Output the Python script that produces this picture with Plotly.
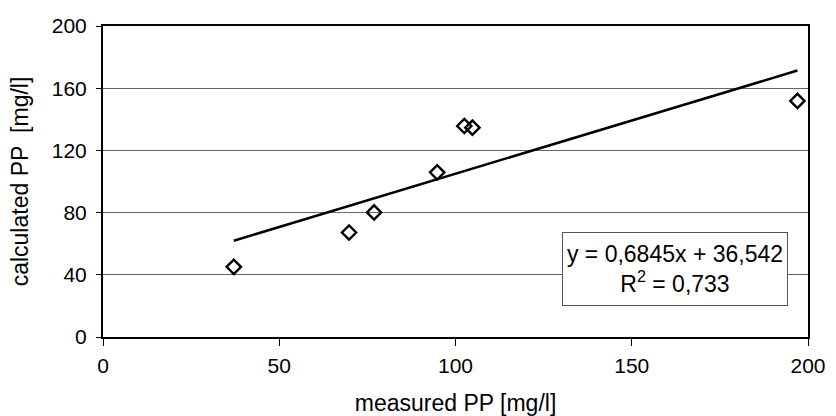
import plotly.graph_objects as go

# Data
measured_pp = [37.1, 69.8, 76.9, 94.8, 102.5, 104.8, 197.0]
calculated_pp = [45.1, 67.2, 80.1, 105.9, 135.7, 134.6, 151.8]
slope = 0.6845
intercept = 36.542
r_squared = 0.733
x_ticks = [0, 50, 100, 150, 200]
y_ticks = [0, 40, 80, 120, 160, 200]

fit_x = [min(measured_pp), max(measured_pp)]
fit_y = [slope * v + intercept for v in fit_x]

FONT = "Liberation Sans, Arial, sans-serif"

fig = go.Figure()
fig.add_trace(go.Scatter(
    x=fit_x, y=fit_y, mode="lines",
    line=dict(color="black", width=2.5), showlegend=False, hoverinfo="skip"))
fig.add_trace(go.Scatter(
    x=measured_pp, y=calculated_pp, mode="markers",
    marker=dict(symbol="diamond-open", size=11, color="black",
                line=dict(color="black", width=2.4)),
    showlegend=False))

eq_text = ("y = " + f"{slope:.4f}".replace(".", ",") + "x + "
           + f"{intercept:.3f}".replace(".", ",")
           + "<br>R<sup>2</sup> = " + f"{r_squared:.3f}".replace(".", ","))
fig.add_annotation(
    x=162.4, y=43.9, xref="x", yref="y", text=eq_text, showarrow=False,
    xanchor="center", yanchor="middle", align="center",
    font=dict(family=FONT, size=23, color="black"),
    bgcolor="white", bordercolor="#555", borderwidth=1, borderpad=4,
    width=216, height=64)

fig.update_layout(
    width=836, height=416,
    margin=dict(l=103, r=28, t=26, b=79, autoexpand=False),
    paper_bgcolor="white", plot_bgcolor="white",
    font=dict(family=FONT, size=21, color="black"),
    xaxis=dict(
        range=[0, 200], tickvals=x_ticks, ticktext=[str(v) for v in x_ticks],
        showgrid=False, zeroline=False, automargin=False,
        showline=True, mirror=True, linecolor="black", linewidth=2,
        ticks="outside", ticklen=7, tickcolor="black", tickwidth=1,
        tickfont=dict(size=21), ticklabelstandoff=2,
        title=dict(text="measured PP [mg/l]", font=dict(size=23), standoff=22)),
    yaxis=dict(
        range=[0, 200], tickvals=y_ticks, ticktext=[str(v) for v in y_ticks],
        showgrid=True, gridcolor="#666", gridwidth=1, zeroline=False, automargin=False,
        showline=True, mirror=True, linecolor="black", linewidth=2,
        ticks="outside", ticklen=5, tickcolor="black", tickwidth=1,
        tickfont=dict(size=21), ticklabelstandoff=5,
        title=dict(text="calculated PP\u00a0 [mg/l]", font=dict(size=23), standoff=17)),
)

fig.write_html("out.html")
